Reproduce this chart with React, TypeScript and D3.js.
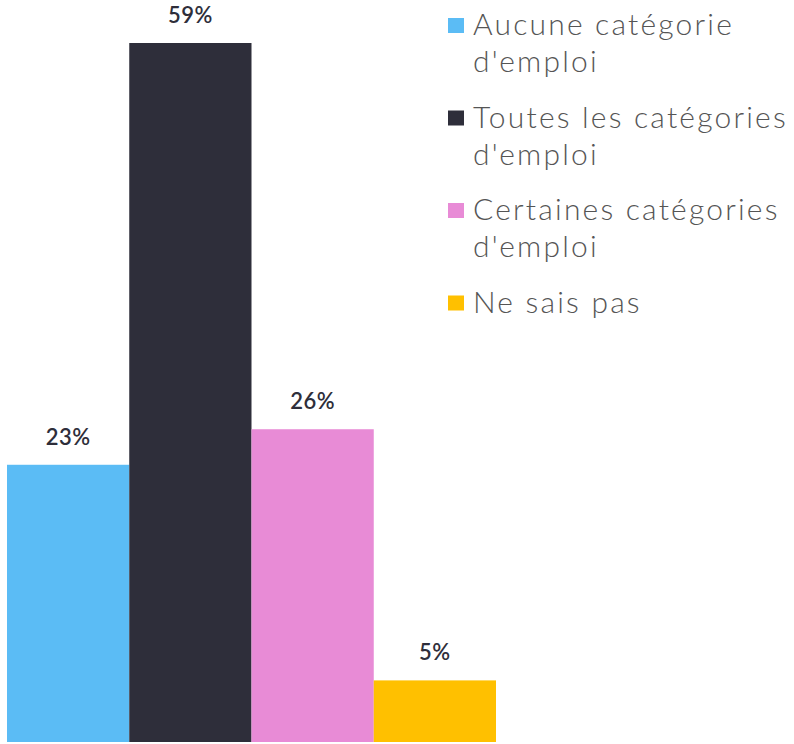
import React from 'react';
import * as d3 from 'd3';

const categories = [
  "Aucune catégorie d'emploi",
  "Toutes les catégories d'emploi",
  "Certaines catégories d'emploi",
  'Ne sais pas',
];
const values = [23.4, 59, 26.4, 5.2];
const colors = ['#5bbcf5', '#2e2e3a', '#e88bd6', '#ffc000'];
const legendLines = [
  ['Aucune catégorie', "d'emploi"],
  ['Toutes les catégories', "d'emploi"],
  ['Certaines catégories', "d'emploi"],
  ['Ne sais pas'],
];

const width = 794;
const height = 744;

const App = () => {
  // bars fill the band with no gap
  const x = d3.scaleBand<string>()
    .domain(categories)
    .range([7, 496])
    .padding(0);

  const y = d3.scaleLinear()
    .domain([0, 59])
    .range([742, 43]);

  const legendX = 448;
  const legendTop = 35; // baseline of first line
  const itemGap = 92.5;
  const lineGap = 37;

  return (
    <svg
      width={width}
      height={height}
      style={{ position: 'absolute', left: 0, top: 0, background: '#fff' }}
    >
      {categories.map((c, i) => (
        <rect
          key={c}
          x={x(c)}
          y={y(values[i])}
          width={x.bandwidth()}
          height={y(0) - y(values[i])}
          fill={colors[i]}
        />
      ))}
      {categories.map((c, i) => (
        <text
          key={'l' + c}
          x={(x(c) as number) + x.bandwidth() / 2}
          y={y(values[i]) - 20}
          textAnchor="middle"
          fontFamily="Lato, 'Noto Sans', sans-serif"
          fontWeight={600}
          fontSize={22}
          letterSpacing={0.5}
          fill="#2e2e3a"
        >
          {Math.round(values[i]) + '%'}
        </text>
      ))}
      {legendLines.map((lines, i) => {
        const base = legendTop + i * itemGap;
        return (
          <g key={'lg' + i}>
            <rect x={legendX} y={base - 17} width={16} height={15} fill={colors[i]} />
            {lines.map((t, j) => (
              <text
                key={j}
                x={legendX + 25}
                y={base + j * lineGap}
                fontFamily="Lato, 'Noto Sans', sans-serif"
                fontWeight={300}
                fontSize={30}
                letterSpacing={2.2}
                fill="#555555"
              >
                {t}
              </text>
            ))}
          </g>
        );
      })}
    </svg>
  );
};

export default App;
